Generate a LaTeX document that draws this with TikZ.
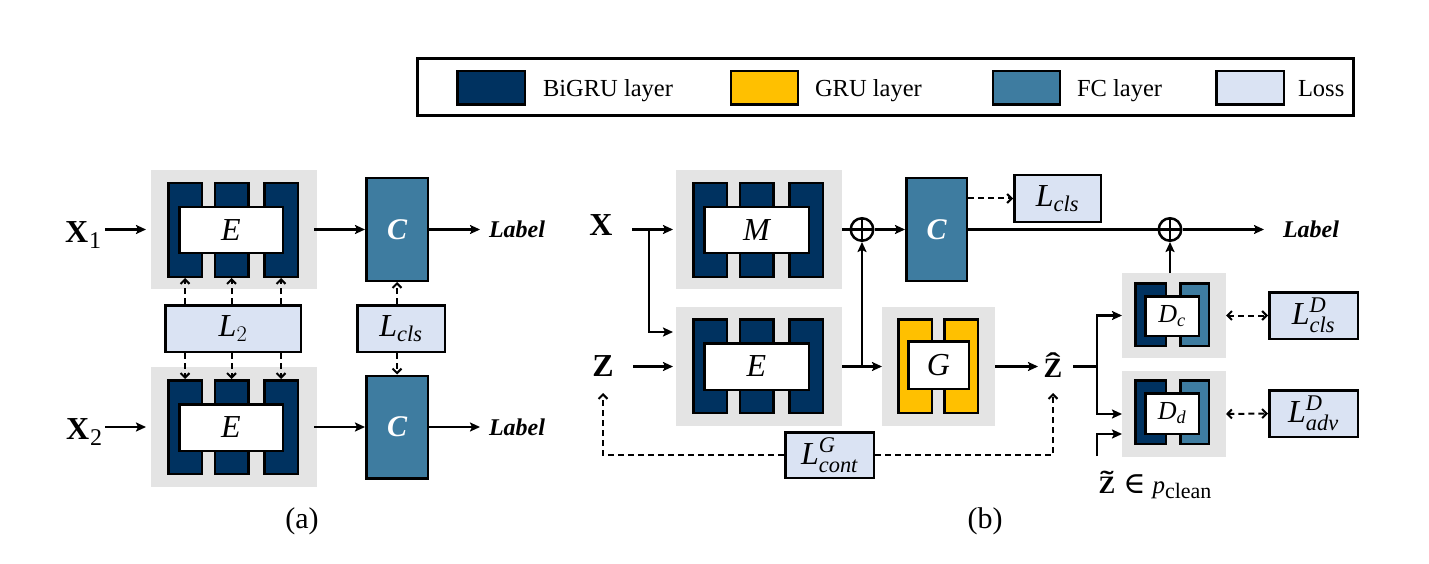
\RequirePackage{fix-cm}
\documentclass[tikz,border=0pt]{standalone}
\usepackage{amsmath}
\usepackage{fontspec}
\setmainfont{Liberation Serif}
\newfontfamily\djv{DejaVu Serif}
\usetikzlibrary{arrows.meta}
\definecolor{navy}{RGB}{0,50,96}
\definecolor{gold}{RGB}{255,192,0}
\definecolor{fcblue}{RGB}{62,124,160}
\definecolor{lossblue}{RGB}{218,227,243}
\definecolor{bggray}{RGB}{228,228,228}
\newcommand\fsz[1]{\fontsize{#1pt}{#1pt}\selectfont}
\newcommand\bx[6]{\node[#1,minimum width=#5pt,minimum height=#6pt] (#2) at (#3,#4) {};}
\newcommand\accz[1]{\ooalign{\textbf{Z}\cr\hidewidth\raisebox{0.17em}{\scalebox{1.6}[1]{\textbf{#1}}}\hidewidth\cr}}
\newcommand\xsub[1]{\textbf{X}\hspace{1pt}\raisebox{-6pt}{\fsz{24}#1}}
\tikzset{
  mystealth/.tip={Stealth[length=10pt,width=9pt,inset=2pt]},
  mybarb/.tip={Straight Barb[length=4.5pt,width=9pt,line width=2pt]},
  bg/.style={fill=bggray,draw=none,inner sep=0,outer sep=0},
  bigru/.style={fill=navy,draw=black,line width=2.5pt,inner sep=0},
  grubox/.style={fill=gold,draw=black,line width=2.5pt,inner sep=0},
  fcbox/.style={fill=fcblue,draw=black,line width=2.5pt,inner sep=0},
  core/.style={fill=white,draw=black,line width=2.5pt,inner sep=0},
  lossbox/.style={fill=lossblue,draw=black,line width=2.5pt,inner sep=0},
  txt/.style={inner sep=0,outer sep=0},
  flow/.style={line width=2.2pt,arrows={-mystealth}},
  wire/.style={line width=2.2pt},
  dasharrow/.style={line width=2pt,dash pattern=on 6pt off 4pt,arrows={-mybarb}},
  dashboth/.style={line width=2pt,dash pattern=on 6pt off 4pt,arrows={mybarb-mybarb}},
  sumnode/.style={circle,draw=black,line width=2.5pt,fill=white,minimum size=22.5pt,inner sep=0,
    path picture={\draw[line width=2.5pt] (path picture bounding box.north)--(path picture bounding box.south)
      (path picture bounding box.west)--(path picture bounding box.east);}},
  enc/.style={font=\fsz{32}\itshape},
  fctext/.style={text=white,font=\fsz{30}\bfseries\itshape},
  losstext/.style={font=\fsz{32}},
  labtext/.style={txt,font=\fsz{24}\bfseries\itshape},
  legtext/.style={txt,anchor=base west,font=\fsz{24.5}}
}
\begin{document}
\begin{tikzpicture}[x=1pt,y=-1pt]
\useasboundingbox[fill=white] (0,0) rectangle (1429,564);

% ---------- legend ----------
\node[draw=black,line width=3pt,minimum width=936pt,minimum height=57pt,inner sep=0] (legend) at (885.5,87) {};
\bx{bigru}{lgA}{491}{88}{67.5}{33.5}
\bx{grubox}{lgB}{764.5}{88}{67}{33.5}
\bx{fcbox}{lgC}{1026.5}{88}{67}{33.5}
\bx{lossbox}{lgD}{1250}{88}{67.5}{33.5}
\node[legtext] (tA) at (543,97) {BiGRU layer};
\node[legtext] (tB) at (815,97) {GRU layer};
\node[legtext] (tC) at (1077,97) {FC layer};
\node[legtext] (tD) at (1298,97) {Loss};

% ---------- part (a) ----------
\node[bg,minimum width=166pt,minimum height=119pt] (gA1) at (234,229.5) {};
\bx{bigru}{bA1}{185}{230}{33.5}{93.5}
\bx{bigru}{bA2}{231.5}{230}{33.5}{93.5}
\bx{bigru}{bA3}{281}{230}{33.5}{93.5}
\node[core,enc,minimum width=103.5pt,minimum height=45.5pt] (eA1) at (231,230) {E};
\node[fcbox,fctext,minimum width=61.5pt,minimum height=102.5pt] (cA1) at (397,229.5) {C};

\node[bg,minimum width=166pt,minimum height=120pt] (gA2) at (234,427) {};
\bx{bigru}{bB1}{185}{427}{33.5}{93.5}
\bx{bigru}{bB2}{231.5}{427}{33.5}{93.5}
\bx{bigru}{bB3}{281}{427}{33.5}{93.5}
\node[core,enc,minimum width=103.5pt,minimum height=46.5pt] (eA2) at (231,427.5) {E};
\node[fcbox,fctext,minimum width=61.5pt,minimum height=102.5pt] (cA2) at (397,427) {C};

\node[lossbox,losstext,minimum width=135.5pt,minimum height=46.5pt] (L2) at (233,328.5) {$\textit{L}_{2}$};
\node[lossbox,losstext,minimum width=87.5pt,minimum height=46.5pt] (LclsA) at (401,328.5) {$\textit{L}_{\textit{cls}}$};

\node[txt,anchor=base west,font=\fsz{32}] (X1) at (65,242) {\xsub{1}};
\node[txt,anchor=base west,font=\fsz{32}] (X2) at (66,439) {\xsub{2}};
\coordinate (inA1) at (105,229.5);
\coordinate (inA2) at (105,427);
\node[labtext] (labA1) at (517,229.5) {Label};
\node[labtext] (labA2) at (517,427) {Label};

\draw[flow] (inA1) -- ([xshift=-5pt]gA1.west);
\draw[flow] (inA2) -- ([xshift=-5pt]gA2.west);
\draw[flow] ([xshift=-3pt]gA1.east) -- (gA1.east -| cA1.west);
\draw[flow] ([xshift=-3pt]gA2.east) -- (gA2.east -| cA2.west);
\draw[flow] (cA1.east) -- ([xshift=-9pt]labA1.west);
\draw[flow] (cA2.east) -- ([xshift=-9pt]labA2.west);
\foreach \b in {bA1,bA2,bA3} \draw[dasharrow] (\b |- L2.north) -- (\b.south);
\foreach \b in {bB1,bB2,bB3} \draw[dasharrow] (\b |- L2.south) -- (\b.north);
\draw[dasharrow] (cA1 |- LclsA.north) -- (cA1.south);
\draw[dasharrow] (cA2 |- LclsA.south) -- (cA2.north);
\node[txt,font=\fsz{30}] (capA) at (302,521) {(a)};

% ---------- part (b) ----------
\node[bg,minimum width=166pt,minimum height=119pt] (gM) at (759,229.5) {};
\bx{bigru}{bM1}{710}{230}{33.5}{93.5}
\bx{bigru}{bM2}{756.5}{230}{33.5}{93.5}
\bx{bigru}{bM3}{806}{230}{33.5}{93.5}
\node[core,enc,minimum width=104.5pt,minimum height=45.5pt] (mM) at (756.5,230) {M};

\node[bg,minimum width=166pt,minimum height=119pt] (gE) at (759,366.5) {};
\bx{bigru}{bE1}{710}{366}{33.5}{93.5}
\bx{bigru}{bE2}{756.5}{366}{33.5}{93.5}
\bx{bigru}{bE3}{806}{366}{33.5}{93.5}
\node[core,enc,minimum width=104.5pt,minimum height=46.5pt] (eE) at (756.5,366.5) {E};

\node[sumnode] (s1) at (862,229.5) {};
\node[fcbox,fctext,minimum width=60.5pt,minimum height=102.5pt] (cB) at (936.5,229.5) {C};

\node[bg,minimum width=113pt,minimum height=119pt] (gG) at (938.5,366.5) {};
\bx{grubox}{bG1}{915}{366}{33.5}{93.5}
\bx{grubox}{bG2}{961}{366}{33.5}{93.5}
\node[core,enc,minimum width=60.5pt,minimum height=47.5pt] (gc) at (938.5,365) {G};

\node[lossbox,losstext,minimum width=86.5pt,minimum height=46.5pt] (lB) at (1057.5,198.5) {$\textit{L}_{\textit{cls}}$};
\node[sumnode] (s2) at (1170,229.5) {};
\node[labtext] (labB) at (1311,229.5) {Label};

\node[bg,minimum width=104pt,minimum height=85pt] (gDc) at (1174,315.5) {};
\bx{bigru}{bDc1}{1150.5}{314.5}{30.5}{62.5}
\bx{fcbox}{bDc2}{1194.5}{314.5}{28.5}{62.5}
\node[core,font=\fsz{26},minimum width=53.5pt,minimum height=39.5pt] (dc) at (1172,316) {$\textit{D}_{\textit{c}}$};

\node[bg,minimum width=104pt,minimum height=86pt] (gDd) at (1174,414) {};
\bx{bigru}{bDd1}{1150.5}{412}{30.5}{63.5}
\bx{fcbox}{bDd2}{1194.5}{412}{28.5}{63.5}
\node[core,font=\fsz{26},minimum width=53.5pt,minimum height=40.5pt] (dd) at (1172,413.5) {$\textit{D}_{\textit{d}}$};

\node[lossbox,losstext,minimum width=88.5pt,minimum height=46.5pt] (lDc) at (1313.5,315.5) {$\textit{L}^{\textit{D}}_{\textit{cls}}$};
\node[lossbox,losstext,minimum width=88.5pt,minimum height=46.5pt] (lDd) at (1313.5,413.5) {$\textit{L}^{\textit{D}}_{\textit{adv}}$};
\node[lossbox,losstext,minimum width=88.5pt,minimum height=45.5pt] (lC) at (829.5,455) {$\textit{L}^{\textit{G}}_{\textit{cont}}$};

\node[txt,anchor=base,font=\fsz{32}\bfseries] (xB) at (601,236) {X};
\node[txt,anchor=base,font=\fsz{32}\bfseries] (zB) at (603,376) {Z};
\node[txt,anchor=base,font=\fsz{28}] (zh) at (1053,377) {\accz{\symbol{"02C6}}};
\node[txt,anchor=base,font=\fsz{25}] (zt) at (1155,493) {\accz{\symbol{"02DC}}\hspace{8pt}{\djv\fsz{30}∈}\hspace{7pt}\textit{p}\raisebox{-5pt}{\fsz{22}clean}};

\coordinate (inX) at (632,229.5);
\coordinate (brX) at (649,229.5);
\coordinate (inZ) at (633,366.5);
\coordinate (zhin) at (1038,366.5);
\coordinate (zhout) at (1073,366.5);
\coordinate (brZ) at (1097,366.5);
\coordinate (ztin) at (1097,456);

\draw[flow] (inX) -- ([xshift=-3pt]gM.west);
\draw[flow] (brX) |- ([xshift=-3pt,yshift=34.5pt]gE.west);
\draw[flow] (inZ) -- ([xshift=-3pt]gE.west);
\draw[wire] (gM.east) -- (s1.west);
\draw[flow] (s1.east) -- (cB.west);
\draw[flow] (gE.east) -- (gG.west);
\draw[flow] (s1 |- gE.east) -- (s1.south);
\draw[dasharrow] (cB.east |- lB.west) -- (lB.west);
\draw[wire] (cB.east) -- (s2.west);
\draw[flow] (s2.east) -- ([xshift=-19pt]labB.west);
\draw[flow] (s2 |- gDc.north) -- (s2.south);
\draw[flow] (gG.east) -- (zhin);
\draw[wire] (zhout) -- (brZ);
\draw[flow] (brZ) |- (gDc.west);
\draw[flow] (brZ) |- (gDd.west);
\draw[flow] (ztin) |- ([yshift=-20pt]gDd.west);
\draw[dashboth] (gDc.east) -- (lDc.west);
\draw[dashboth] (gDd.east) -- (lDd.west);
\draw[dasharrow] (lC.west) -| ([yshift=-17pt]zB.south);
\draw[dasharrow] (lC.east) -| ([yshift=-16pt]zh.south);
\node[txt,font=\fsz{30}] (capB) at (985,521) {(b)};
\end{tikzpicture}
\end{document}
